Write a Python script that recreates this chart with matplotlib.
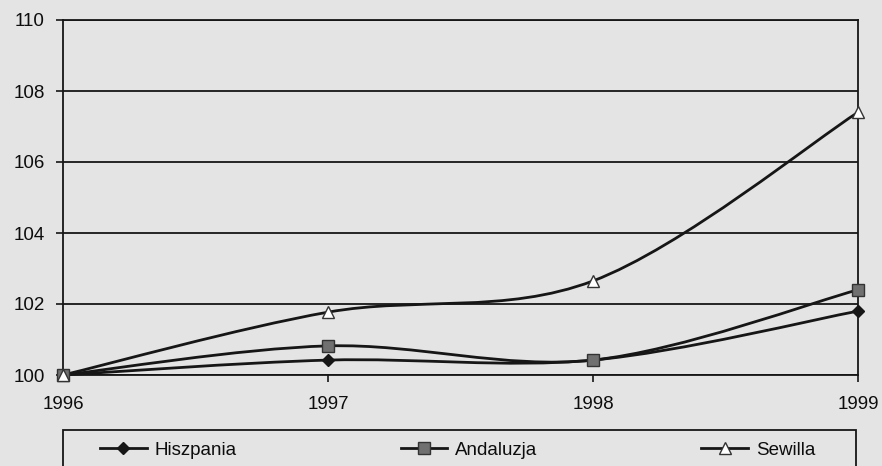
import matplotlib
matplotlib.use("Agg")
import matplotlib.pyplot as plt
from matplotlib.path import Path
from matplotlib.patches import PathPatch, Rectangle
from matplotlib.lines import Line2D
import numpy as np

plt.rcParams['font.family'] = ['Liberation Sans', 'DejaVu Sans']

years = [1996, 1997, 1998, 1999]
hiszpania = [100.0, 100.42, 100.42, 101.8]
andaluzja = [100.0, 100.82, 100.42, 102.4]
sewilla = [100.0, 101.77, 102.65, 107.4]

ink = '#161616'
paper = '#e4e4e4'


def smooth_path(xs, ys):
    # Excel-like smoothed line: cubic bezier with Catmull-Rom tangents
    pts = np.column_stack([xs, ys]).astype(float)
    n = len(pts)
    verts = [pts[0]]
    codes = [Path.MOVETO]
    for i in range(n - 1):
        p0 = pts[i - 1] if i > 0 else pts[i]
        p1 = pts[i]
        p2 = pts[i + 1]
        p3 = pts[i + 2] if i + 2 < n else pts[i + 1]
        c1 = p1 + (p2 - p0) / 6.0
        c2 = p2 - (p3 - p1) / 6.0
        verts += [c1, c2, p2]
        codes += [Path.CURVE4] * 3
    return Path(verts, codes)


fig = plt.figure(figsize=(8.82, 4.66), dpi=100, facecolor=paper)
ax = fig.add_axes([63 / 882, 1 - 375 / 466, 795 / 882, 355 / 466])
ax.set_facecolor(paper)
ax.set_xlim(1996, 1999)
ax.set_ylim(100, 110)

series = [
    ('Hiszpania', hiszpania, dict(marker='D', markersize=6, markerfacecolor=ink, markeredgecolor=ink)),
    ('Andaluzja', andaluzja, dict(marker='s', markersize=8, markerfacecolor='#707070', markeredgecolor='#333333')),
    ('Sewilla', sewilla, dict(marker='^', markersize=9, markerfacecolor='white', markeredgecolor='#333333')),
]

handles = []
for name, vals, mk in series:
    ax.add_patch(PathPatch(smooth_path(years, vals), fill=False, edgecolor=ink,
                           lw=2.0, transform=ax.transData, clip_on=False, zorder=3))
    ax.plot(years, vals, linestyle='none', clip_on=False, zorder=4, markeredgewidth=1.0, **mk)
    handles.append(Line2D([], [], color=ink, lw=2.0, markeredgewidth=1.0, **mk))

ax.set_yticks([100, 102, 104, 106, 108, 110])
ax.set_xticks(years)
ax.grid(axis='y', color=ink, lw=1.3)
ax.set_axisbelow(True)
for s in ax.spines.values():
    s.set_color(ink)
    s.set_linewidth(1.3)
ax.tick_params(axis='y', length=5, width=1.2, color=ink, pad=8, labelsize=13.5, labelcolor='#0d0d0d')
ax.tick_params(axis='x', length=5, width=1.2, color=ink, pad=10, labelsize=13.5, labelcolor='#0d0d0d')

# legend box (runs off the bottom of the scan)
fig.patches.append(Rectangle((63 / 882, -0.05), 793 / 882, 0.05 + 36 / 466,
                             transform=fig.transFigure, fill=False,
                             edgecolor=ink, lw=1.3, clip_on=False))
fig.legend(handles, [s[0] for s in series], loc='center left', ncol=3, mode='expand',
           bbox_to_anchor=(100 / 882, 0.004, 715 / 882, 0.06), frameon=False,
           borderpad=0, borderaxespad=0, handlelength=2.5, handletextpad=0.4,
           fontsize=13.5, labelcolor='#0d0d0d')

fig.savefig('out.png', dpi=100, facecolor=paper)
